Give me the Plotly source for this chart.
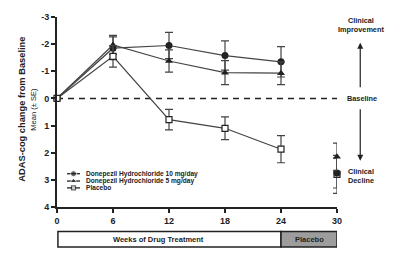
import plotly.graph_objects as go

weeks = [0, 6, 12, 18, 24]
d10 = [0, -1.85, -1.95, -1.58, -1.35]
d10_se = [0, 0.42, 0.48, 0.54, 0.56]
d5 = [0, -1.97, -1.38, -0.95, -0.93]
d5_se = [0, 0.35, 0.41, 0.44, 0.42]
pbo = [0, -1.55, 0.78, 1.1, 1.87]
pbo_se = [0, 0.4, 0.38, 0.42, 0.5]

wk30 = [30]
d10_30 = [2.75]
d10_30_se = [0.55]
d5_30 = [2.15]
d5_30_se = [0.5]
pbo_30 = [2.8]
pbo_30_se = [0.7]

series_names = ["Donepezil Hydrochloride 10 mg/day", "Donepezil Hydrochloride 5 mg/day", "Placebo"]
xticks = [0, 6, 12, 18, 24, 30]
yticks = [-3, -2, -1, 0, 1, 2, 3, 4]

FONT = "Liberation Sans, Arial, sans-serif"
INK = "#222"
LINE = "#444"

fig = go.Figure()

# baseline dashed
fig.add_trace(go.Scatter(x=[0, 30], y=[0, 0], mode="lines",
                         line=dict(color=INK, width=1.6, dash="6px,5px"),
                         showlegend=False, hoverinfo="skip"))

def err(se):
    return dict(type="data", array=se, visible=True, color=LINE, thickness=1.2, width=4)

M10 = dict(symbol="circle", size=7, color=INK)
M5 = dict(symbol="triangle-up", size=7, color=INK)
MP = dict(symbol="square", size=6, color="white", line=dict(color=INK, width=1.2))

fig.add_trace(go.Scatter(x=weeks, y=d10, mode="lines+markers", name=series_names[0],
                         line=dict(color=LINE, width=1.2), marker=M10, error_y=err(d10_se),
                         showlegend=False, cliponaxis=False))
fig.add_trace(go.Scatter(x=weeks, y=d5, mode="lines+markers", name=series_names[1],
                         line=dict(color=LINE, width=1.2), marker=M5, error_y=err(d5_se),
                         showlegend=False, cliponaxis=False))
fig.add_trace(go.Scatter(x=weeks, y=pbo, mode="lines+markers", name=series_names[2],
                         line=dict(color=LINE, width=1.2), marker=MP, error_y=err(pbo_se),
                         showlegend=False, cliponaxis=False))

fig.add_trace(go.Scatter(x=wk30, y=pbo_30, mode="markers", showlegend=False, cliponaxis=False,
                         marker=MP, error_y=err(pbo_30_se)))
fig.add_trace(go.Scatter(x=wk30, y=d10_30, mode="markers", showlegend=False, cliponaxis=False,
                         marker=M10, error_y=err(d10_30_se)))
fig.add_trace(go.Scatter(x=wk30, y=d5_30, mode="markers", showlegend=False, cliponaxis=False,
                         marker=M5, error_y=err(d5_30_se)))

# manual compact legend on an overlay axis (pixel-like frame)
leg_y = [173, 180.5, 187.5]
leg_markers = [M10, M5, dict(symbol="square", size=5, color="white", line=dict(color=INK, width=1.2))]
for i, (nm, mk) in enumerate(zip(series_names, leg_markers)):
    fig.add_trace(go.Scatter(x=[67, 73.5, 80], y=[leg_y[i]] * 3, xaxis="x2", yaxis="y2",
                             mode="lines+markers", line=dict(color=INK, width=1.3),
                             marker=dict(mk, size=[0, mk["size"] - 1, 0]),
                             showlegend=False, hoverinfo="skip", cliponaxis=False))
    fig.add_annotation(xref="x2", yref="y2", x=84, y=leg_y[i], text="<b>" + nm + "</b>",
                       showarrow=False, xanchor="left", yanchor="middle",
                       font=dict(size=6.6, family=FONT, color=INK))

fig.update_layout(
    width=400, height=258,
    margin=dict(l=57, r=63, t=13, b=51),
    paper_bgcolor="white", plot_bgcolor="white",
    font=dict(family=FONT, color=INK, size=9),
    showlegend=False,
    xaxis=dict(range=[0, 30], tickvals=xticks, ticktext=["<b>%d</b>" % v for v in xticks],
               ticks="outside", ticklen=4, tickwidth=1.5,
               tickcolor=INK, showline=True, linecolor=INK, linewidth=2, showgrid=False,
               zeroline=False, tickfont=dict(size=9, family=FONT, color=INK)),
    yaxis=dict(range=[4, -3], tickvals=yticks, ticktext=["<b>%d</b>" % v for v in yticks],
               ticks="outside", ticklen=4, tickwidth=1.5, tickcolor=INK,
               showline=True, linecolor=INK, linewidth=2, showgrid=False, zeroline=False,
               tickfont=dict(size=9, family=FONT, color=INK)),
    xaxis2=dict(overlaying="x", range=[57, 337], visible=False, fixedrange=True),
    yaxis2=dict(overlaying="y", range=[207, 13], visible=False, fixedrange=True),
)

# Axis titles
fig.add_annotation(xref="paper", yref="paper", x=-0.123, y=0.515, xanchor="center", yanchor="middle",
                   text="<b>ADAS-cog change from Baseline</b>", textangle=-90, showarrow=False,
                   font=dict(size=9.3, family=FONT, color=INK))
fig.add_annotation(xref="paper", yref="paper", x=-0.084, y=0.515, xanchor="center", yanchor="middle",
                   text="Mean (± SE)", textangle=-90, showarrow=False,
                   font=dict(size=7.5, family=FONT, color=INK))

# Right side labels
RF = dict(size=7.3, family=FONT, color=INK)
fig.add_annotation(xref="paper", yref="y", x=1.085, y=-2.72, text="<b>Clinical<br>Improvement</b>",
                   showarrow=False, font=RF, xanchor="center", yanchor="middle")
fig.add_annotation(xref="paper", yref="y", x=1.09, y=0, text="<b>Baseline</b>",
                   showarrow=False, font=RF, xanchor="center", yanchor="middle")
fig.add_annotation(xref="paper", yref="y", x=1.085, y=2.85, text="<b>Clinical<br>Decline</b>",
                   showarrow=False, font=RF, xanchor="center", yanchor="middle")
# arrows
fig.add_annotation(xref="paper", yref="y", axref="pixel", ayref="pixel",
                   x=1.083, y=-2.05, ax=0, ay=46, text="", showarrow=True,
                   arrowhead=2, arrowsize=1, arrowwidth=1.2, arrowcolor=INK)
fig.add_annotation(xref="paper", yref="y", axref="pixel", ayref="pixel",
                   x=1.083, y=2.3, ax=0, ay=-53, text="", showarrow=True,
                   arrowhead=2, arrowsize=1, arrowwidth=1.2, arrowcolor=INK)

# Bottom bar
fig.add_shape(type="rect", xref="x", yref="paper", x0=0.1, x1=24, y0=-0.211, y1=-0.129,
              line=dict(color=INK, width=1.5), fillcolor="white")
fig.add_shape(type="rect", xref="x", yref="paper", x0=24, x1=30, y0=-0.211, y1=-0.129,
              line=dict(color=INK, width=1.5), fillcolor="#9d9d9d")
fig.add_annotation(xref="x", yref="paper", x=10.9, y=-0.17, text="<b>Weeks of Drug Treatment</b>",
                   showarrow=False, xanchor="center", yanchor="middle",
                   font=dict(size=7.5, family=FONT, color=INK))
fig.add_annotation(xref="x", yref="paper", x=27, y=-0.17, text="<b>Placebo</b>",
                   showarrow=False, xanchor="center", yanchor="middle",
                   font=dict(size=7.5, family=FONT, color=INK))

fig.write_html("out.html")
